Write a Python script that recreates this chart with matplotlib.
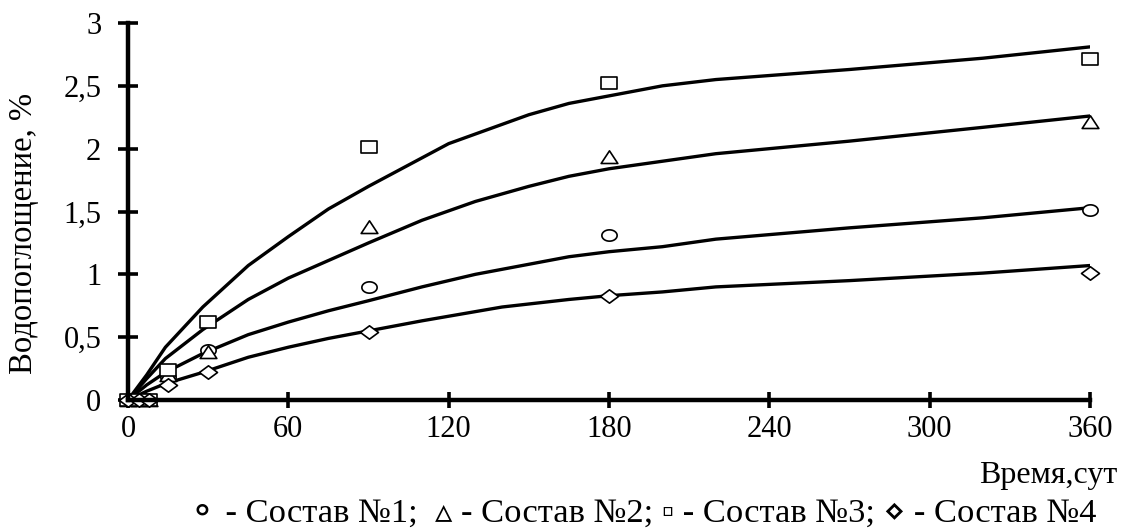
import matplotlib
matplotlib.use("Agg")
import matplotlib.pyplot as plt
from matplotlib.path import Path
import numpy as np

# ---- data ----
days = [0, 4, 8, 15, 30, 90, 180, 360]
sostav1 = [0, 0, 0, 0.18, 0.40, 0.90, 1.31, 1.51]
sostav2 = [0, 0, 0, 0.20, 0.38, 1.38, 1.93, 2.21]
sostav3 = [0, 0, 0, 0.24, 0.62, 2.01, 2.52, 2.71]
sostav4 = [0, 0, 0, 0.12, 0.22, 0.54, 0.83, 1.01]

trend1_x = [0, 7, 14, 28, 45, 60, 75, 90, 110, 130, 150, 165, 180, 200, 220, 270, 320, 360]
trend1_y = [0, 0.12, 0.22, 0.37, 0.52, 0.62, 0.71, 0.79, 0.90, 1.00, 1.08, 1.14, 1.18, 1.22, 1.28, 1.37, 1.45, 1.53]
trend2_x = [0, 7, 14, 28, 45, 60, 75, 90, 110, 130, 150, 165, 180, 200, 220, 270, 320, 360]
trend2_y = [0, 0.17, 0.33, 0.56, 0.80, 0.97, 1.11, 1.25, 1.43, 1.58, 1.70, 1.78, 1.84, 1.90, 1.96, 2.06, 2.17, 2.26]
trend3_x = [0, 7, 14, 21, 28, 45, 60, 75, 90, 120, 150, 165, 180, 200, 220, 270, 320, 360]
trend3_y = [0, 0.20, 0.42, 0.58, 0.74, 1.07, 1.30, 1.52, 1.70, 2.04, 2.27, 2.36, 2.42, 2.50, 2.55, 2.63, 2.72, 2.81]
trend4_x = [0, 7, 14, 28, 45, 60, 75, 90, 110, 140, 165, 180, 200, 220, 270, 320, 360]
trend4_y = [0, 0.07, 0.13, 0.22, 0.34, 0.42, 0.49, 0.55, 0.63, 0.74, 0.80, 0.83, 0.86, 0.90, 0.95, 1.01, 1.07]

xticks = [0, 60, 120, 180, 240, 300, 360]
yticks = [0, 0.5, 1, 1.5, 2, 2.5, 3]
ytick_labels = ["0", "0,5", "1", "1,5", "2", "2,5", "3"]

ylabel = "Водопоглощение, %"
xlabel = "Время,сут"
legend_text = "⚬ - Состав №1;  ▵ - Состав №2; ▫ - Состав №3; ⋄ - Состав №4"

# ---- style ----
plt.rcParams['font.family'] = ['Liberation Serif', 'DejaVu Sans']

# stretched marker shapes (wider than tall)
sx = 1.35
t = np.linspace(0, 2 * np.pi, 41)
ellipse = Path(np.column_stack([sx * np.cos(t), np.sin(t)]), closed=True)
square = Path([(-sx, -1), (sx, -1), (sx, 1), (-sx, 1), (-sx, -1)], closed=True)
triangle = Path([(-1.25, -0.9), (1.25, -0.9), (0, 1.0), (-1.25, -0.9)], closed=True)
diamond = Path([(-sx, 0), (0, -1), (sx, 0), (0, 1), (-sx, 0)], closed=True)

fig = plt.figure(figsize=(11.23, 5.31), dpi=100)
ax = fig.add_axes([128 / 1123, 131 / 531, 962 / 1123, 377 / 531])

lw = 2.4
for tx, ty in [(trend1_x, trend1_y), (trend2_x, trend2_y), (trend3_x, trend3_y), (trend4_x, trend4_y)]:
    ax.plot(tx, ty, color='black', lw=lw, solid_joinstyle='round', zorder=2)

mk = dict(linestyle='none', markerfacecolor='white', markeredgecolor='black',
          markeredgewidth=1.2, clip_on=False, zorder=3)
ax.plot(days, sostav1, marker=ellipse, markersize=11, **mk)
ax.plot(days, sostav2, marker=triangle, markersize=12, **mk)
ax.plot(days, sostav3, marker=square, markersize=12, **mk)
ax.plot(days, sostav4, marker=diamond, markersize=13, **mk)

ax.set_xlim(0, 360)
ax.set_ylim(0, 3)
ax.set_xticks(xticks)
ax.set_xticklabels([str(v) for v in xticks])
ax.set_yticks(yticks)
ax.set_yticklabels(ytick_labels)

for s in ['top', 'right']:
    ax.spines[s].set_visible(False)
for s in ['left', 'bottom']:
    ax.spines[s].set_linewidth(3.2)
    ax.spines[s].set_zorder(4)

ax.tick_params(axis='y', direction='inout', length=14.4, width=2.6, pad=12, labelsize=22)
ax.tick_params(axis='x', direction='inout', length=11, width=2.6, pad=5, labelsize=22)

fig.text(24 / 1123, 1 - 233 / 531, ylabel, rotation=90, ha='center', va='center', fontsize=23.5)
fig.text(1117 / 1123, 1 - 476 / 531, xlabel, ha='right', va='center', fontsize=23)
fig.text(642 / 1123, 1 - 514 / 531, legend_text, ha='center', va='center', fontsize=24.8)

fig.savefig("out.png", dpi=100)
